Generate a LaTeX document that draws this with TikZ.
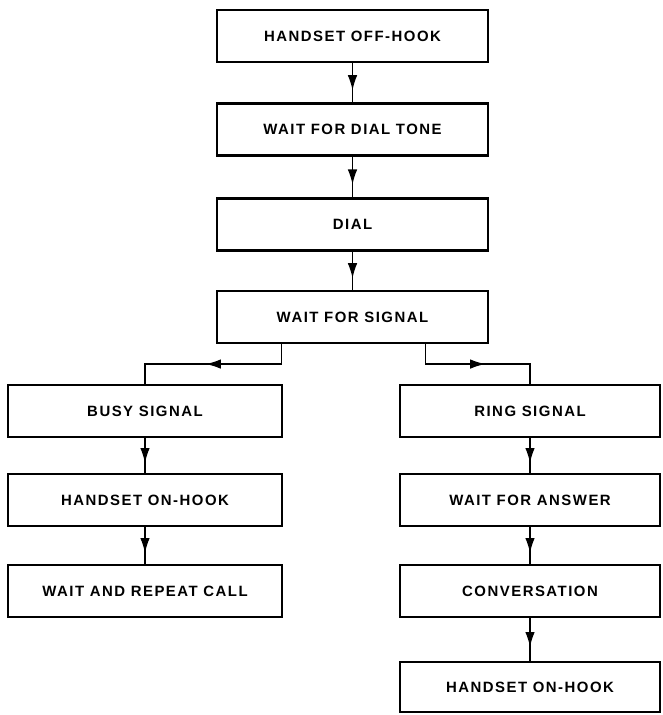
\documentclass[tikz,border=0pt]{standalone}
\usepackage{fontspec}
\newfontfamily\letterfont[LetterSpace=10]{Liberation Sans}
\usetikzlibrary{arrows.meta, decorations.markings}

\begin{document}
\begin{tikzpicture}[
  stepbox/.style={draw, line width=1.2pt, minimum height=1.04cm, inner sep=2pt,
    font=\letterfont\bfseries\fontsize{8.5}{10}\selectfont},
  topbox/.style={stepbox, minimum width=5.42cm},
  leftbox/.style={stepbox, minimum width=5.48cm},
  rightbox/.style={stepbox, minimum width=5.2cm},
  midarrow/.style={line width=0.75pt, postaction={decorate}, decoration={markings,
    mark=at position 0.5 with {\arrow[xshift=1.5mm]{Latex[length=3mm, width=1.9mm]}}}}
]
  \useasboundingbox (0, 0) rectangle (13.26, -14.3);

  % Main sequence
  \node[topbox] (offhook) at (7.05, -0.72) {HANDSET OFF-HOOK};
  \node[topbox] (dialtone) at (7.05, -2.59) {WAIT FOR DIAL TONE};
  \node[topbox] (dial) at (7.05, -4.49) {DIAL};
  \node[topbox] (signal) at (7.05, -6.34) {WAIT FOR SIGNAL};

  % Busy branch
  \node[leftbox] (busy) at (2.9, -8.22) {BUSY SIGNAL};
  \node[leftbox] (onhookl) at (2.9, -10.0) {HANDSET ON-HOOK};
  \node[leftbox] (repeat) at (2.9, -11.82) {WAIT AND REPEAT CALL};

  % Ring branch
  \node[rightbox] (ring) at (10.6, -8.22) {RING SIGNAL};
  \node[rightbox] (answer) at (10.6, -10.0) {WAIT FOR ANSWER};
  \node[rightbox] (talk) at (10.6, -11.82) {CONVERSATION};
  \node[rightbox, minimum height=1.0cm] (onhookr) at (10.6, -13.74) {HANDSET ON-HOOK};

  % Connectors
  \draw[midarrow] (offhook) -- (dialtone);
  \draw[midarrow] (dialtone) -- (dial);
  \draw[midarrow] (dial) -- (signal);
  \draw[midarrow] ([xshift=-1.42cm]signal.south) -- ++(0, -0.4) -| (busy.north);
  \draw[midarrow] ([xshift=1.46cm]signal.south) -- ++(0, -0.4) -| (ring.north);
  \draw[midarrow] (busy) -- (onhookl);
  \draw[midarrow] (onhookl) -- (repeat);
  \draw[midarrow] (ring) -- (answer);
  \draw[midarrow] (answer) -- (talk);
  \draw[midarrow] (talk) -- (onhookr);
\end{tikzpicture}
\end{document}
